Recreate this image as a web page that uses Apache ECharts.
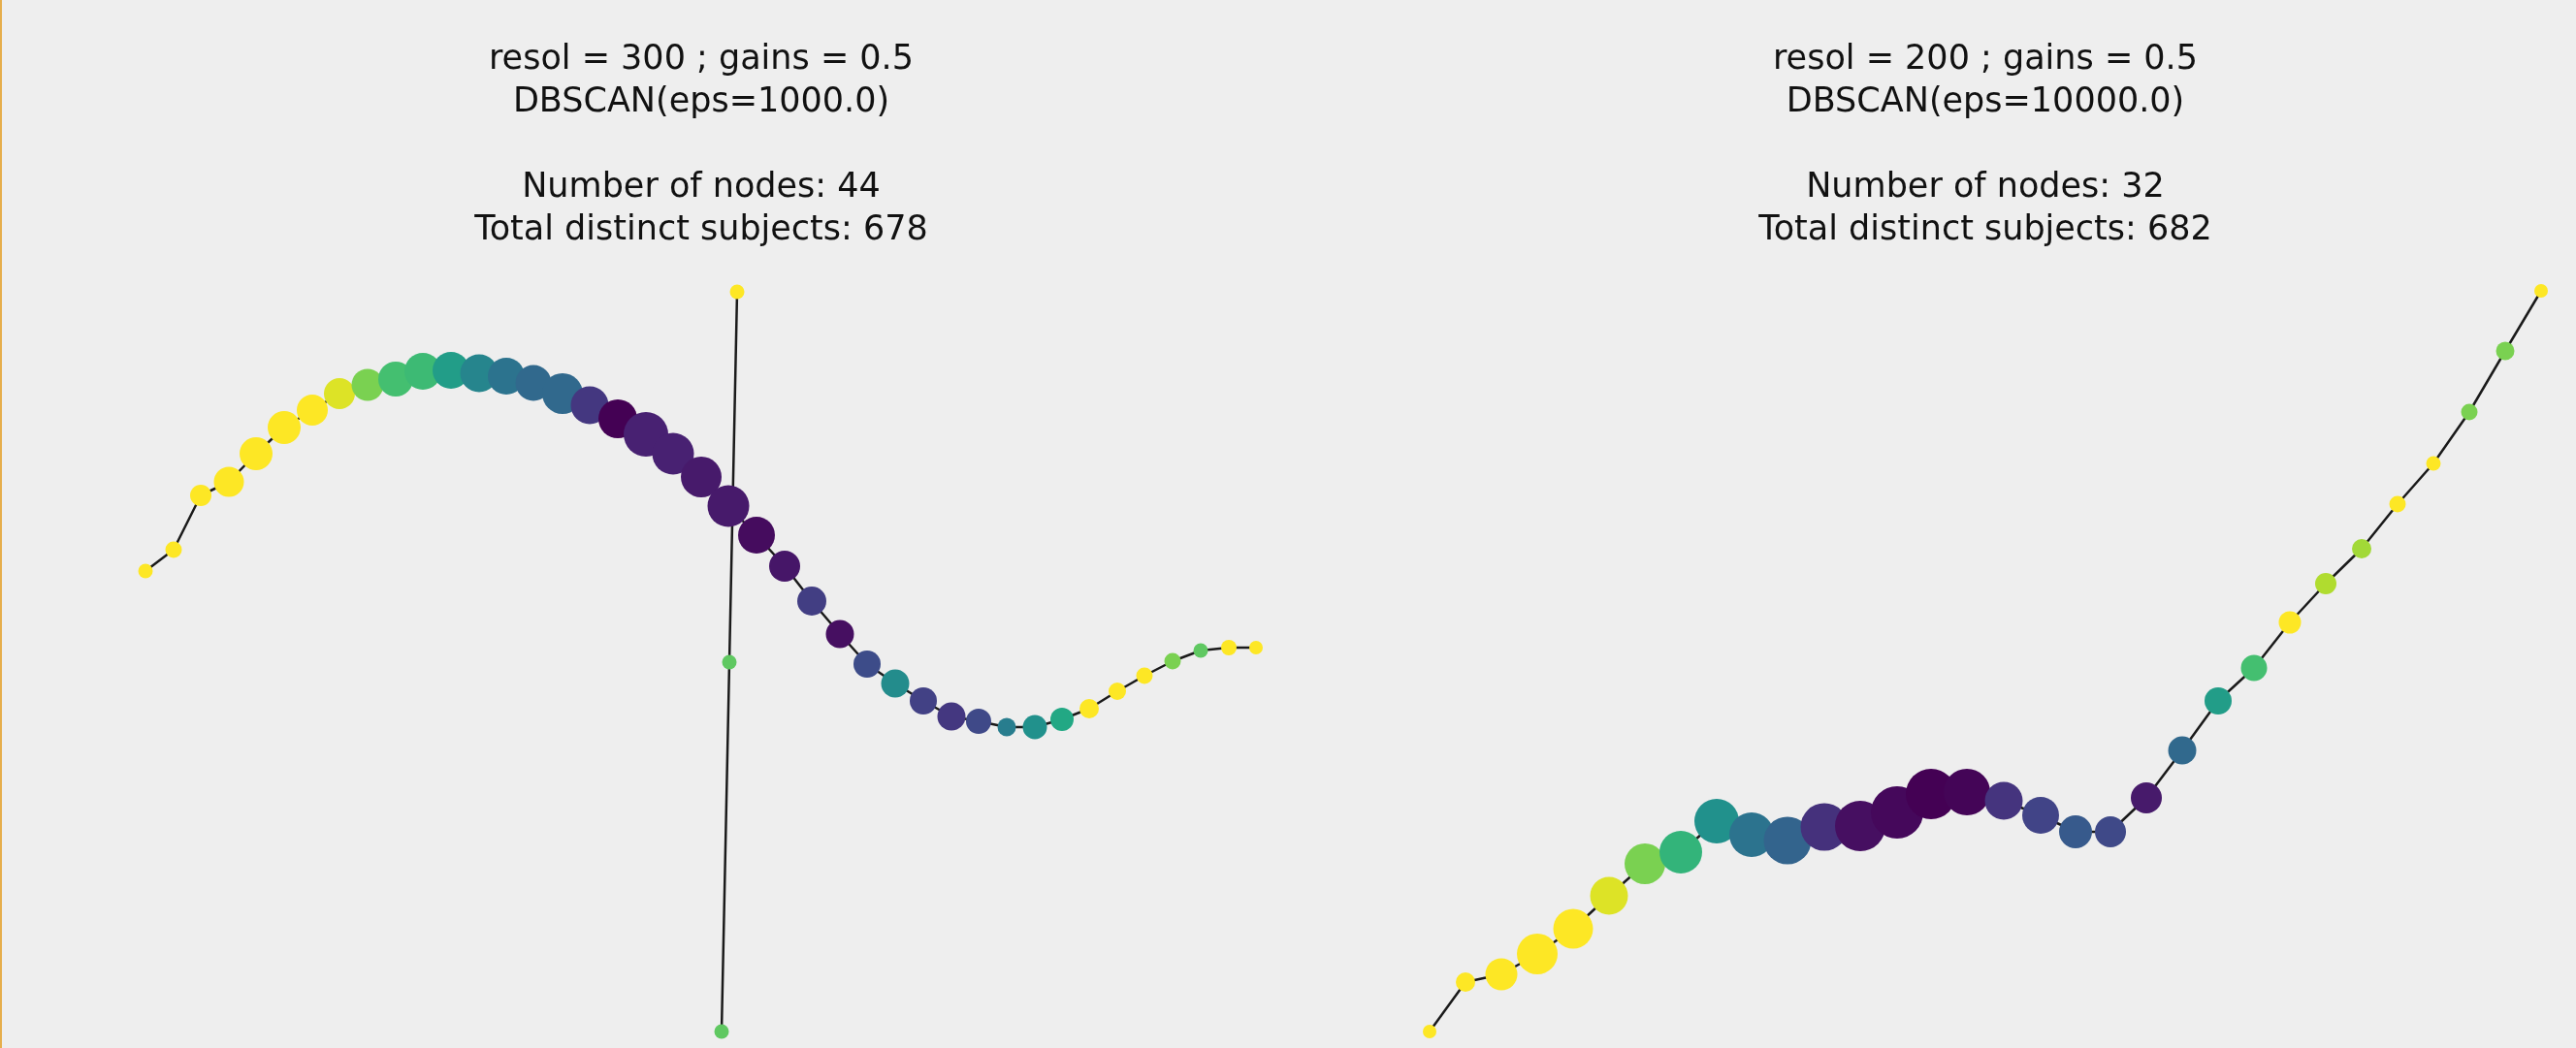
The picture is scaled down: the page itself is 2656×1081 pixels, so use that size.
<!DOCTYPE html>
<html>
<head>
<meta charset="utf-8">
<title>Mapper graphs</title>
<script src="https://cdn.jsdelivr.net/npm/echarts@6/dist/echarts.min.js"></script>
<style>
  html, body { margin: 0; padding: 0; background: #eeeeee; }
  #main { width: 2656px; height: 1081px; }
</style>
</head>
<body>
<div id="main"></div>
<script>
// left graph (resol = 300) : chain of nodes along the curve
const leftX = [50, 79, 107, 136, 164, 193, 222, 250, 279, 308, 336, 365, 394, 422, 450, 480, 508, 537, 566, 594, 623,
  651, 680, 709, 737, 766, 794, 823, 852, 881, 909, 938, 967, 995, 1023, 1052, 1080, 1109, 1138, 1167, 1195];
const leftY = [492, 514, 570, 584, 613, 640, 658, 675, 684, 690, 698, 699, 696, 693, 686, 675, 663, 649, 633, 613, 589,
  559, 529, 497, 461, 427, 396, 376, 358, 342, 337, 331, 331, 339, 350, 368, 384, 399, 410, 413, 413];
const leftSize = [15, 17, 22, 31, 34, 34, 32, 32, 33, 36, 38, 38, 39, 38, 37, 42, 39, 40, 46, 43, 42,
  43, 38, 32, 30, 29, 28, 29, 28, 29, 26, 19, 25, 24, 20, 18, 17, 17, 15, 16, 14];
const leftColor = [1, 1, 1, 1, 1, 1, 1, 0.95, 0.8, 0.7, 0.68, 0.55, 0.45, 0.38, 0.34, 0.34, 0.16, 0, 0.09, 0.09, 0.07,
  0.07, 0.03, 0.06, 0.18, 0.04, 0.23, 0.48, 0.19, 0.16, 0.22, 0.42, 0.5, 0.6, 1, 1, 1, 0.8, 0.75, 1, 1];

// left graph : the separate vertical branch
const stemX = [660, 652, 644];
const stemY = [780, 398, 17];
const stemSize = [15, 15, 15];
const stemColor = [1, 0.75, 0.75];

// right graph (resol = 200)
const rightX = [74, 111, 148, 185, 222, 259, 296, 333, 370, 406, 443, 481, 518, 556, 591, 628,
  666, 704, 740, 776, 813, 850, 887, 924, 961, 998, 1035, 1072, 1109, 1146, 1183, 1220];
const rightY = [17, 68, 76, 97, 123, 157, 190, 202, 234, 220, 214, 228, 229, 243, 262, 264,
  255, 240, 223, 223, 258, 307, 358, 392, 439, 479, 515, 561, 603, 656, 719, 781];
const rightSize = [14, 20, 33, 42, 41, 39, 42, 44, 46, 46, 49, 49, 52, 54, 52, 48,
  39, 38, 34, 32, 32, 29, 28, 27, 23, 22, 20, 17, 15, 17, 19, 14];
const rightColor = [1, 1, 1, 1, 1, 0.95, 0.8, 0.65, 0.5, 0.38, 0.32, 0.14, 0.04, 0.02, 0, 0.01,
  0.15, 0.2, 0.28, 0.22, 0.07, 0.34, 0.55, 0.7, 1, 0.88, 0.86, 1, 1, 0.8, 0.8, 1];

const leftTitle = ["resol = 300 ; gains = 0.5", "DBSCAN(eps=1000.0)", "", "Number of nodes: 44", "Total distinct subjects: 678"];
const rightTitle = ["resol = 200 ; gains = 0.5", "DBSCAN(eps=10000.0)", "", "Number of nodes: 32", "Total distinct subjects: 682"];

const viridis = ["#440154", "#482475", "#414487", "#355f8d", "#2a788e", "#21918c",
  "#22a884", "#44bf70", "#7ad151", "#bddf26", "#fde725"];

function pts(xs, ys) {
  return xs.map((x, i) => [x, ys[i]]);
}
function nodes(xs, ys, sizes, cols) {
  return xs.map((x, i) => [x, ys[i], sizes[i], cols[i]]);
}

const edgeStyle = { color: "#1a1a1a", width: 2.5 };

function edgeSeries(idx, data) {
  return {
    type: "line",
    xAxisIndex: idx,
    yAxisIndex: idx,
    data: data,
    symbol: "none",
    lineStyle: edgeStyle,
    silent: true,
    z: 1,
  };
}
function nodeSeries(idx, data) {
  return {
    type: "scatter",
    xAxisIndex: idx,
    yAxisIndex: idx,
    data: data,
    symbolSize: (v) => v[2],
    itemStyle: { opacity: 1 },
    z: 2,
  };
}

const chart = echarts.init(document.getElementById("main"));

chart.setOption({
  backgroundColor: "#eeeeee",
  animation: false,
  grid: [
    { left: 100, top: 0, width: 1250, height: 1081 },
    { left: 1400, top: 0, width: 1256, height: 1081 },
  ],
  xAxis: [
    { gridIndex: 0, type: "value", min: 0, max: 1250, show: false },
    { gridIndex: 1, type: "value", min: 0, max: 1256, show: false },
  ],
  yAxis: [
    { gridIndex: 0, type: "value", min: 0, max: 1081, show: false },
    { gridIndex: 1, type: "value", min: 0, max: 1081, show: false },
  ],
  visualMap: [
    { show: false, type: "continuous", seriesIndex: 2, dimension: 3, min: 0, max: 1, inRange: { color: viridis } },
    { show: false, type: "continuous", seriesIndex: 4, dimension: 3, min: 0, max: 1, inRange: { color: viridis } },
  ],
  series: [
    edgeSeries(0, pts(leftX, leftY)),
    edgeSeries(0, pts(stemX, stemY)),
    nodeSeries(0, nodes(leftX, leftY, leftSize, leftColor).concat(nodes(stemX, stemY, stemSize, stemColor))),
    edgeSeries(1, pts(rightX, rightY)),
    nodeSeries(1, nodes(rightX, rightY, rightSize, rightColor)),
  ],
  graphic: [
    { type: "rect", left: 0, top: 0, shape: { width: 2, height: 1081 }, style: { fill: "#e6ae4c" } },
    {
      type: "text", x: 723, y: 40,
      style: { text: leftTitle.join("\n"), fill: "#111", fontSize: 35, fontFamily: "DejaVu Sans",
        lineHeight: 44, align: "center", verticalAlign: "top" },
    },
    {
      type: "text", x: 2047, y: 40,
      style: { text: rightTitle.join("\n"), fill: "#111", fontSize: 35, fontFamily: "DejaVu Sans",
        lineHeight: 44, align: "center", verticalAlign: "top" },
    },
  ],
});
</script>
</body>
</html>
